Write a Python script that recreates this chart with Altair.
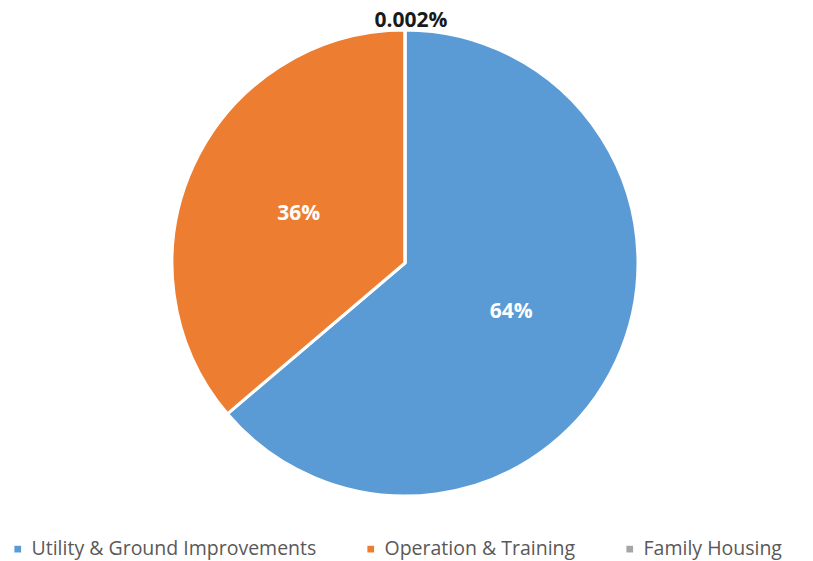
import altair as alt
import pandas as pd

categories = ["Utility & Ground Improvements", "Operation & Training", "Family Housing"]
values = [63.8, 36.2, 0.002]
inner_labels = ["64%", "36%", ""]
outer_labels = ["", "", "0.002%"]
colors = ["#5B9BD5", "#ED7D31", "#A5A5A5"]

df = pd.DataFrame({
    "category": categories,
    "value": values,
    "inner": inner_labels,
    "outer": outer_labels,
    "idx": list(range(len(categories))),
})

base = alt.Chart(df).encode(
    theta=alt.Theta("value:Q", stack=True),
    order=alt.Order("idx:Q", sort="ascending"),
)

arcs = base.mark_arc(outerRadius=233, stroke="white", strokeWidth=3).encode(
    color=alt.Color(
        "category:N",
        scale=alt.Scale(domain=categories, range=colors),
        sort=categories,
        legend=alt.Legend(
            title=None,
            orient="bottom",
            direction="horizontal",
            columns=3,
            symbolType="square",
            symbolSize=45,
            symbolStrokeWidth=0,
            labelFont="Open Sans",
            labelFontSize=19.5,
            labelColor="#595959",
            labelLimit=400,
            columnPadding=44,
            labelOffset=4,
            padding=0,
            offset=21,
        ),
    )
)

inner = base.mark_text(
    radius=117, font="Open Sans", fontSize=21, fontWeight="bold", color="white"
).encode(text="inner:N")

outer = base.mark_text(
    radius=242, dx=6, font="Open Sans", fontSize=21, fontWeight="bold", color="#1a1a1a"
).encode(text="outer:N")

chart = (
    alt.layer(arcs, inner, outer)
    .properties(
        width=794,
        height=510,
        autosize=alt.AutoSizeParams(type="none"),
        padding={"left": 0, "top": 0, "right": 0, "bottom": 43},
    )
    .configure_view(stroke=None)
)

chart.save("out.html", embed_options={"renderer": "svg", "actions": False})
